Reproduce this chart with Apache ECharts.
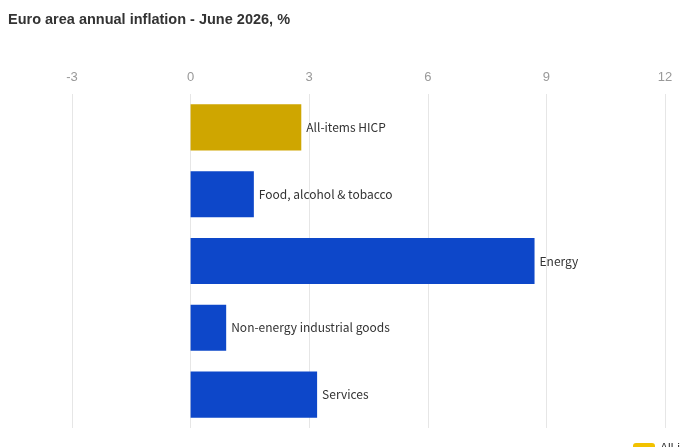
<!DOCTYPE html>
<html>
<head>
<meta charset="utf-8">
<script src="https://cdn.jsdelivr.net/npm/echarts@6/dist/echarts.min.js"></script>
<style>
  html, body { margin: 0; padding: 0; background: #fff; }
  #chart { width: 680px; height: 447px; }
</style>
</head>
<body>
<div id="chart"></div>
<script>
// categories, top to bottom
var categories = ['All-items HICP', 'Food, alcohol & tobacco', 'Energy', 'Non-energy industrial goods', 'Services'];
var values = [2.8, 1.6, 8.7, 0.9, 3.2];
var barColors = ['#CFA600', '#0D47C9', '#0D47C9', '#0D47C9', '#0D47C9'];

var dom = document.getElementById('chart');
var myChart = echarts.init(dom);

var option = {
    title: {
        text: 'Euro area annual inflation - June 2026, %',
        left: 3,
        top: 7,
        textStyle: { fontSize: 14.5, fontWeight: 'bold', color: '#333', fontFamily: 'Arial, Liberation Sans' }
    },
    legend: {
        left: 633,
        top: 443,
        padding: 0,
        itemWidth: 22,
        itemHeight: 12,
        data: [{ name: 'All-items HICP', itemStyle: { color: '#F2C200' } }],
        textStyle: { color: '#333' }
    },
    grid: { left: 72, right: 15, top: 94, bottom: 19 },
    xAxis: {
        type: 'value',
        position: 'top',
        min: -3,
        max: 12,
        interval: 3,
        axisLine: { show: false },
        axisTick: { show: false },
        axisLabel: { color: '#999', fontSize: 13, margin: 10, fontFamily: 'Arial, Liberation Sans' },
        splitLine: { lineStyle: { color: '#e6e6e6' } }
    },
    yAxis: {
        type: 'category',
        inverse: true,
        data: categories,
        axisLine: { show: false },
        axisTick: { show: false },
        axisLabel: { show: false }
    },
    series: [{
        name: 'All-items HICP',
        type: 'bar',
        barCategoryGap: '31%',
        data: values.map(function (v, i) {
            return { value: v, itemStyle: { color: barColors[i] } };
        }),
        label: {
            show: true,
            position: 'right',
            distance: 5,
            color: '#333',
            fontSize: 12,
            fontFamily: 'Noto Sans CJK SC',
            formatter: function (p) { return p.name; }
        }
    }]
};

myChart.setOption(option);
</script>
</body>
</html>
